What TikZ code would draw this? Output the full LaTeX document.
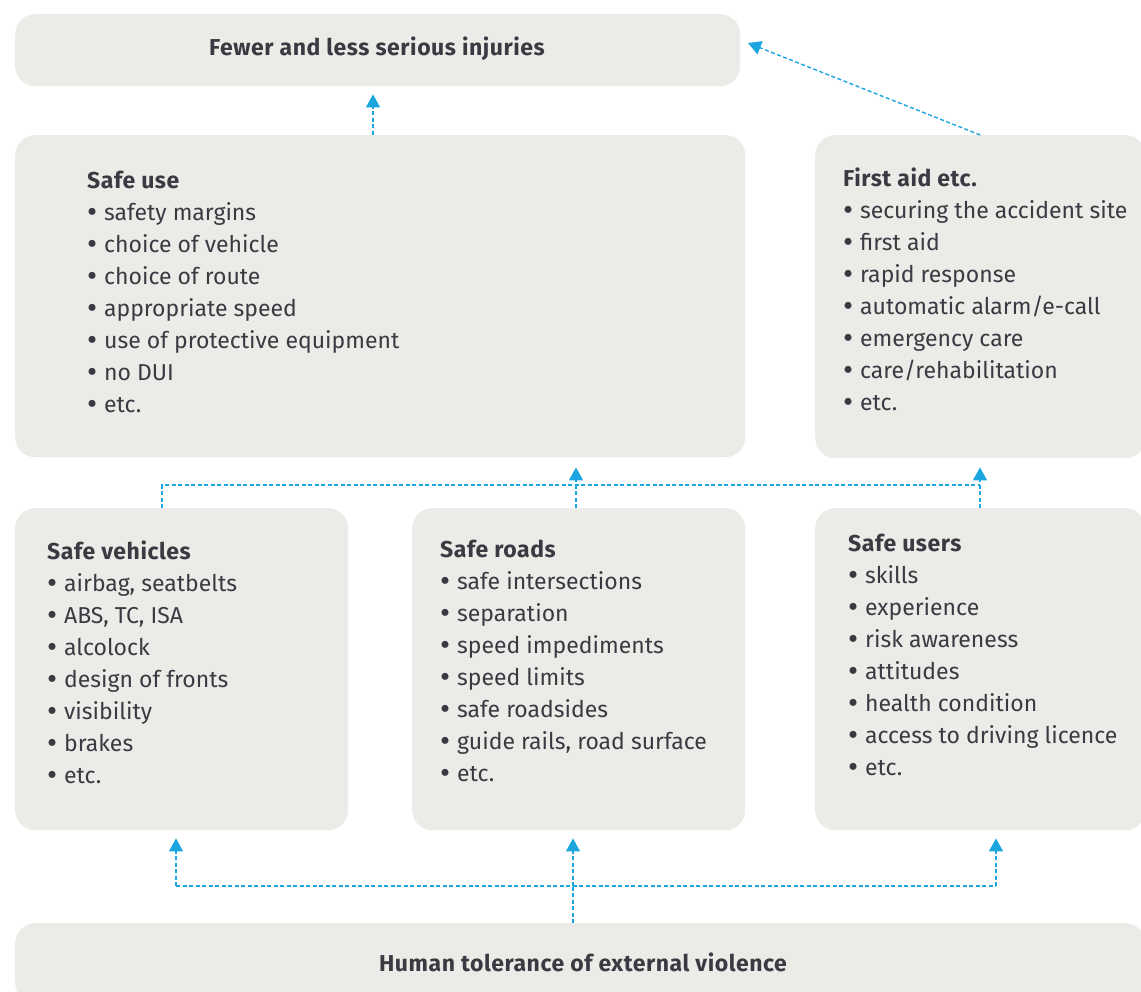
\documentclass[tikz,border=0pt]{standalone}
\usepackage{fontspec}
\setmainfont{Fira Sans}[BoldFeatures={LetterSpace=2.4}]
\usetikzlibrary{arrows.meta}
\definecolor{boxgray}{HTML}{EDEBE7}
\definecolor{inkgray}{HTML}{3A3A42}
\definecolor{linkblue}{HTML}{1BA6E0}
\newcommand{\bul}{\raisebox{-0.06em}{\scalebox{1.35}{\textbullet}}\hspace{0.3em}}
\tikzstyle{box} = [fill=boxgray, rounded corners=20pt, inner sep=0, anchor=north west]
\tikzstyle{list} = [inner sep=0, anchor=north west, align=left, text=inkgray, font=\fontsize{23}{32}\selectfont]
\tikzstyle{link} = [draw=linkblue, line width=1.4pt, dash pattern=on 4pt off 2.5pt]
\tikzstyle{arr} = [link, -{Triangle[width=14pt,length=13pt]}]

\begin{document}
\begin{tikzpicture}[x=1pt, y=-1pt]
\useasboundingbox (0,0) rectangle (1141,992);
% boxes
\node [box, minimum width=725pt, minimum height=72pt]  (top)   at (15, 14) {};
\node [box, minimum width=730pt, minimum height=322pt] (use)   at (15, 135) {};
\node [box, minimum width=330pt, minimum height=323pt] (aid)   at (815, 135) {};
\node [box, minimum width=333pt, minimum height=322pt] (veh)   at (15, 508) {};
\node [box, minimum width=333pt, minimum height=322pt] (road)  at (412, 508) {};
\node [box, minimum width=330pt, minimum height=322pt] (user)  at (815, 508) {};
\node [box, minimum width=1130pt, minimum height=80pt] (human) at (15, 923) {};

% texts
\node [list, anchor=center] (toptext) at (377, 49) {\bfseries Fewer and less serious injuries};
\node [list, anchor=center] (humantext) at (583, 962) {\bfseries Human tolerance of external violence};
\node [list] (usetext) at (87, 171) {\textbf{Safe use}\\
  \bul safety margins\\ \bul choice of vehicle\\ \bul choice of route\\
  \bul appropriate speed\\ \bul use of protective equipment\\ \bul no DUI\\
  \bul etc.};
\node [list] (aidtext) at (843, 168) {\textbf{First aid etc.}\\
  \bul securing the accident site\\ \bul first aid\\ \bul rapid response\\
  \bul automatic alarm/e-call\\ \bul emergency care\\ \bul care/rehabilitation\\
  \bul etc.};
\node [list] (vehtext) at (47, 541) {\textbf{Safe vehicles}\\
  \bul airbag, seatbelts\\ \bul ABS, TC, ISA\\ \bul alcolock\\
  \bul design of fronts\\ \bul visibility\\ \bul brakes\\
  \bul etc.};
\node [list] (roadtext) at (440, 540) {\textbf{Safe roads}\\
  \bul safe intersections\\ \bul separation\\ \bul speed impediments\\
  \bul speed limits\\ \bul safe roadsides\\ \bul guide rails, road surface\\
  \bul etc.};
\node [list] (usertext) at (848, 534) {\textbf{Safe users}\\
  \bul skills\\ \bul experience\\ \bul risk awareness\\
  \bul attitudes\\ \bul health condition\\ \bul access to driving licence\\
  \bul etc.};

% junction points
\coordinate (upL) at (162, 485);
\coordinate (upM) at (576, 485);
\coordinate (upR) at (980, 485);
\coordinate (topA) at (373, 0);
\coordinate (topB) at (748, 43);
\coordinate (lowL) at (176, 886);
\coordinate (lowM) at (573, 886);
\coordinate (lowR) at (996, 886);

% connectors
\draw [arr, shorten >=8pt] (use.north -| topA) -- (top.south -| topA);
\draw [arr] (aid.north) -- (topB);
\draw [link] (veh.north -| upL) -- (upL) -- (upR);
\draw [arr, shorten >=10pt] (road.north -| upM) -- (use.south -| upM);
\draw [arr, shorten >=9pt] (user.north -| upR) -- (aid.south -| upR);
\draw [link] (human.north -| lowM) -- (lowM);
\draw [link] (lowL) -- (lowR);
\draw [arr, shorten >=8pt] (lowL) -- (veh.south -| lowL);
\draw [arr, shorten >=8pt] (lowM) -- (road.south -| lowM);
\draw [arr, shorten >=8pt] (lowR) -- (user.south -| lowR);
\end{tikzpicture}
\end{document}
